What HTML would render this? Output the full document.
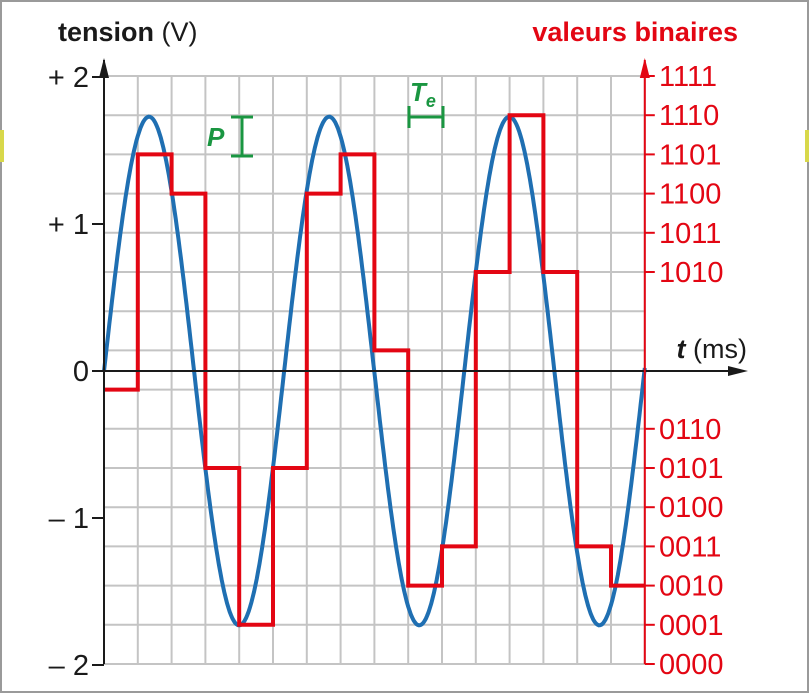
<!DOCTYPE html>
<html><head><meta charset="utf-8"><style>
body{margin:0;background:#fff}
svg{display:block;font-family:"Liberation Sans",sans-serif}
</style></head><body>
<svg width="809" height="693" viewBox="0 0 809 693" id="c">
<rect x="1" y="1" width="807" height="691" fill="#fff" stroke="#9a9a9a" stroke-width="2"/>
<rect x="0" y="130" width="4" height="32" fill="#d8d84a"/>
<rect x="805" y="130" width="4" height="32" fill="#d8d84a"/>
<g id="grid"></g>
<g id="sig"></g>
<g id="axes"></g>
<text x="58" y="41" font-size="27" font-weight="bold" fill="#1a1a1a">tension <tspan font-weight="normal">(V)</tspan></text>
<text x="738" y="41" font-size="27" font-weight="bold" fill="#e30613" text-anchor="end">valeurs binaires</text>
<text x="747" y="358" font-size="27" fill="#1a1a1a" text-anchor="end"><tspan font-weight="bold" font-style="italic">t</tspan> (ms)</text>
<g stroke="#1a9641" stroke-width="3" fill="none">
<line x1="242" y1="117" x2="242" y2="156"/><line x1="231" y1="117" x2="253" y2="117"/><line x1="231" y1="156" x2="253" y2="156"/>
</g>
<text x="207" y="146" font-size="26" font-weight="bold" font-style="italic" fill="#1a9641">P</text>
<g stroke="#1a9641" stroke-width="3" fill="none">
<line x1="409" y1="117" x2="443" y2="117"/><line x1="409" y1="106" x2="409" y2="128"/><line x1="443" y1="106" x2="443" y2="128"/>
</g>
<text x="410" y="101" font-size="26" font-weight="bold" font-style="italic" fill="#1a9641">T<tspan font-size="18" dy="6">e</tspan></text>
</svg>
<script>
const voltTicks=[2,1,0,-1,-2];
const voltLabels=["+ 2","+ 1","0","– 1","– 2"];
const codeTicks=[15,14,13,12,11,10,6,5,4,3,2,1,0];
const codeLabels=["1111","1110","1101","1100","1011","1010","0110","0101","0100","0011","0010","0001","0000"];
const sampleCodes=[7,13,12,5,1,5,12,13,8,2,3,10,14,10,3,2];
const amplitude=1.73;
const periodSamples=5.33;
const nSamples=16;

const NS="http://www.w3.org/2000/svg";
const X0=104,DX=33.8,Y0=371,VY=147,CY0=664,DC=39.2;
const xs=t=>X0+t*DX, yv=v=>Y0-v*VY, yc=c=>CY0-c*DC;
function mk(tag,at,par){const e=document.createElementNS(NS,tag);for(const k in at)e.setAttribute(k,at[k]);par.appendChild(e);return e;}
const grid=document.getElementById('grid'),sig=document.getElementById('sig'),axes=document.getElementById('axes');
for(let i=1;i<=nSamples;i++){const l=mk('line',{x1:xs(i),x2:xs(i),y1:yc(15),y2:yc(0),stroke:'#c4c4c4','stroke-width':2},grid);

}
for(let c=0;c<=15;c++){const l=mk('line',{x1:X0,x2:xs(nSamples),y1:yc(c),y2:yc(c),stroke:'#c4c4c4','stroke-width':2},grid);

}
let d='';for(let i=0;i<=400;i++){const t=i/400*nSamples;d+=(i?'L':'M')+xs(t).toFixed(1)+','+yv(amplitude*Math.sin(2*Math.PI*t/periodSamples)).toFixed(1);}
const sp=mk('path',{d:d,fill:'none',stroke:'#1f6fb2','stroke-width':4},sig);


let s='';sampleCodes.forEach((c,i)=>{s+=(i?'L':'M')+xs(i)+','+yc(c)+'L'+xs(i+1)+','+yc(c);});
const st=mk('path',{d:s,fill:'none',stroke:'#e30613','stroke-width':4},sig);


const ya=mk('line',{x1:X0,x2:X0,y1:yc(0),y2:60,stroke:'#1a1a1a','stroke-width':2},axes);


mk('path',{d:`M${X0-5},78L${X0},58L${X0+5},78Z`,fill:'#1a1a1a'},axes);
const xa=mk('line',{x1:X0,x2:740,y1:Y0,y2:Y0,stroke:'#1a1a1a','stroke-width':2},axes);


mk('path',{d:`M728,${Y0-5}L748,${Y0}L728,${Y0+5}Z`,fill:'#1a1a1a'},axes);
const RX=xs(nSamples);
const ra=mk('line',{x1:RX,x2:RX,y1:yc(0),y2:60,stroke:'#e30613','stroke-width':2},axes);


mk('path',{d:`M${RX-5},78L${RX},58L${RX+5},78Z`,fill:'#e30613'},axes);
voltTicks.forEach((v,i)=>{mk('line',{x1:X0-12,x2:X0,y1:yv(v),y2:yv(v),stroke:'#1a1a1a','stroke-width':2},axes);
const t=mk('text',{x:89,y:yv(v)+10,'font-size':29,'text-anchor':'end',fill:'#1a1a1a'},axes);t.textContent=voltLabels[i];

});
codeTicks.forEach((c,i)=>{mk('line',{x1:RX,x2:RX+10,y1:yc(c),y2:yc(c),stroke:'#e30613','stroke-width':2},axes);
const t=mk('text',{x:659,y:yc(c)+10,'font-size':29,fill:'#e30613'},axes);t.textContent=codeLabels[i];

});
</script>
</body></html>
